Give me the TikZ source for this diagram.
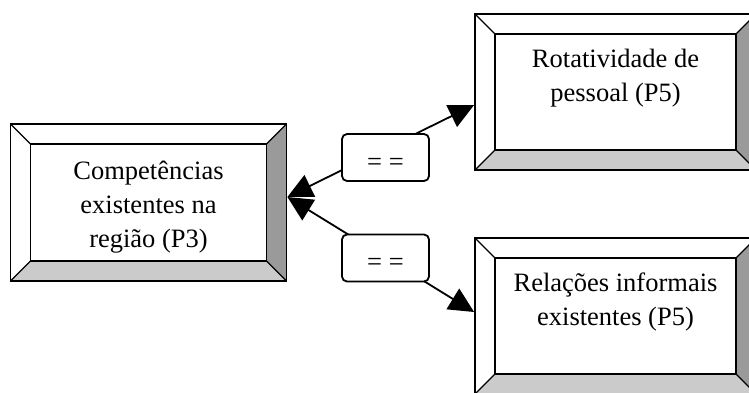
\documentclass[tikz,border=0pt]{standalone}
\usepackage{fontspec}
\setmainfont{Liberation Serif}
\usetikzlibrary{arrows.meta,backgrounds}

\definecolor{bevelside}{HTML}{9A9A9A}
\definecolor{bevelbase}{HTML}{CBCBCB}

\tikzset{
  % framed box with a bevelled (raised) border
  bevelbox/.style={
    draw, line width=1.8pt, fill=white, inner sep=0pt,
    minimum width=#1, minimum height=156pt,
    path picture={
      \fill[bevelside]
        (path picture bounding box.north east) --
        (path picture bounding box.south east) --
        ([shift={(-20pt,20pt)}]path picture bounding box.south east) --
        ([shift={(-20pt,-20pt)}]path picture bounding box.north east) -- cycle;
      \fill[bevelbase]
        (path picture bounding box.south west) --
        (path picture bounding box.south east) --
        ([shift={(-20pt,20pt)}]path picture bounding box.south east) --
        ([shift={(20pt,20pt)}]path picture bounding box.south west) -- cycle;
      \draw[line width=1.8pt]
        ([shift={(20pt,-20pt)}]path picture bounding box.north west) rectangle
        ([shift={(-20pt,20pt)}]path picture bounding box.south east);
      \draw[line width=1.3pt]
        (path picture bounding box.north west) -- ++(20pt,-20pt)
        (path picture bounding box.north east) -- ++(-20pt,-20pt)
        (path picture bounding box.south west) -- ++(20pt,20pt)
        (path picture bounding box.south east) -- ++(-20pt,20pt);
    }},
  % anchored at the baseline of the last line
  boxtext/.style={align=center, inner sep=0pt, anchor=base,
    font=\fontsize{26.5}{34}\selectfont},
  eqlabel/.style={draw, line width=1.8pt, fill=white, rounded corners=5pt,
    minimum width=87pt, minimum height=47pt, inner sep=0pt,
    text height=25pt, text depth=0pt,
    font=\fontsize{26.5}{34}\selectfont},
  conn/.style={line width=1.8pt,
    {Triangle[length=25pt,width=24pt]}-{Triangle[length=25pt,width=24pt]}}
}

\begin{document}
\begin{tikzpicture}[x=1pt,y=-1pt]
  \useasboundingbox (0,0) rectangle (749,392);
  \clip (0,0) rectangle (749,392);

  % the three bevelled boxes
  \node[bevelbox=276pt, minimum height=157pt] (comp) at (148.5,202.5) {};
  \node[bevelbox=281pt] (rot) at (615.5,92) {};
  \node[bevelbox=281pt] (rel) at (615.5,316) {};

  \node[boxtext] (compText) at ([yshift=-124pt]comp.north)
    {Competências\\existentes na\\região (P3)};
  \node[boxtext] (rotText) at ([yshift=-88pt]rot.north)
    {Rotatividade de\\pessoal (P5)};
  \node[boxtext] (relText) at ([yshift=-88pt]rel.north)
    {Relações informais\\existentes (P5)};

  % relation labels
  \node[eqlabel] (eqTop) at (385.5,157.5) {= =};
  \node[eqlabel] (eqBot) at (385.5,258) {= =};

  % connector end points
  \coordinate (hub) at ([yshift=5.5pt]comp.east);
  \coordinate (rotIn) at ([yshift=-13pt]rot.west);
  \coordinate (relIn) at ([yshift=4pt]rel.west);

  \begin{scope}[on background layer]
    \draw[conn] (hub) -- (rotIn);
    \draw[conn] (hub) -- (relIn);
  \end{scope}
\end{tikzpicture}
\end{document}
